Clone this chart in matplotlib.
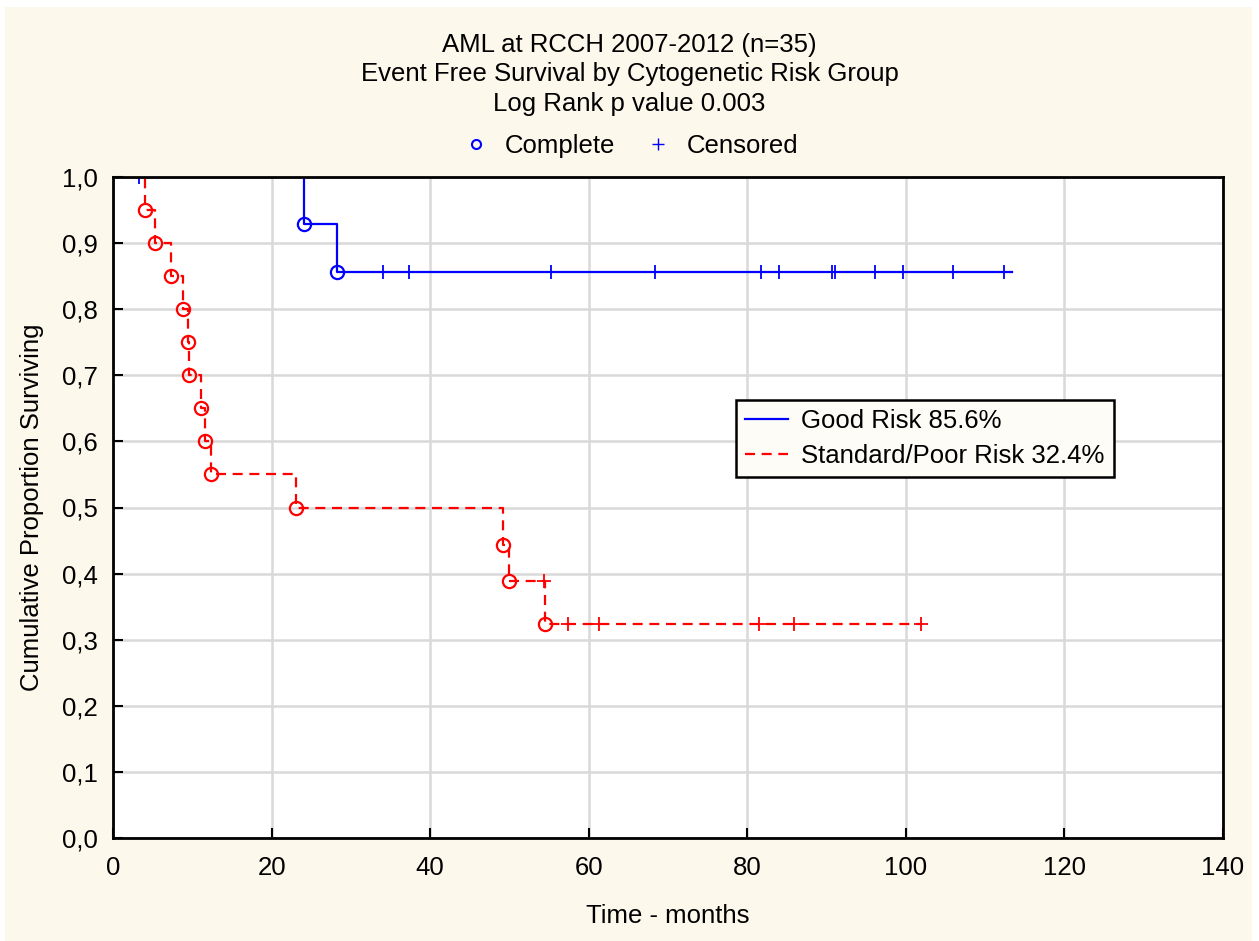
import numpy as np
import matplotlib
matplotlib.use('Agg')
from matplotlib import pyplot as plt
from matplotlib.lines import Line2D
from matplotlib.patches import Rectangle
from matplotlib.ticker import FuncFormatter

plt.rcParams['font.family'] = ['Liberation Sans', 'DejaVu Sans']

# Standard/Poor risk group (event times and survival after each step)
red_t = [0, 4.0, 5.3, 7.3, 8.8, 9.5, 9.6, 11.1, 11.6, 12.4, 23.1, 49.2, 50.0, 54.5]
red_s = [1.0, 0.95, 0.90, 0.85, 0.80, 0.75, 0.70, 0.65, 0.60, 0.55, 0.50, 0.444, 0.389, 0.324]
red_end = 101.9
red_cens_t = [54.3, 57.4, 61.3, 81.5, 85.9, 101.9]
red_cens_s = [0.389, 0.324, 0.324, 0.324, 0.324, 0.324]

# Good risk group
blue_t = [0, 24.1, 28.2]
blue_s = [1.0, 0.929, 0.856]
blue_end = 113.4
blue_cens_t = [3.3, 34.1, 37.3, 55.2, 68.3, 81.7, 84.0, 90.7, 91.1, 96.1, 99.7, 105.9, 112.4]
blue_cens_s = [1.0] + [0.856] * 12

cream = '#fdf8ec'
fs = 18.5

fig = plt.figure(figsize=(12.59, 9.41), dpi=100, facecolor='white')
fig.patches.append(Rectangle((5 / 1259, 0), 1247 / 1259, 934 / 941, transform=fig.transFigure,
                             facecolor=cream, edgecolor='none', zorder=-10))
ax = fig.add_axes([113 / 1259, 1 - 838 / 941, 1110 / 1259, 661 / 941])
ax.set_facecolor('white')

dash = (0, (4.5, 3))
# step curves
ax.step(red_t + [red_end], red_s + [red_s[-1]], where='post', color='red', lw=1.6,
        linestyle=dash, label='Standard/Poor Risk 32.4%', zorder=3)
ax.step(blue_t + [blue_end], blue_s + [blue_s[-1]], where='post', color='blue', lw=1.6,
        label='Good Risk 85.6%', zorder=3)

# complete (event) markers
ax.plot(red_t[1:], red_s[1:], 'o', mfc='none', mec='red', mew=1.6, ms=9.5, ls='none', zorder=4)
ax.plot(blue_t[1:], blue_s[1:], 'o', mfc='none', mec='blue', mew=1.6, ms=9.5, ls='none', zorder=4)
# censored markers
ax.plot(red_cens_t, red_cens_s, '+', color='red', mew=1.3, ms=10, ls='none', zorder=4)
ax.plot(blue_cens_t, blue_cens_s, '+', color='blue', mew=1.3, ms=10, ls='none', zorder=4)

ax.set_xlim(0, 140)
ax.set_ylim(0, 1.0)
ax.set_xticks(np.arange(0, 141, 20))
ax.set_yticks(np.arange(0, 1.01, 0.1))
ax.yaxis.set_major_formatter(FuncFormatter(lambda v, p: ('%.1f' % v).replace('.', ',')))
ax.grid(True, color='#d9d9d9', lw=1.8)
ax.set_axisbelow(True)
ax.tick_params(direction='in', length=7, width=1.5, labelsize=fs, color='black')
ax.tick_params(axis='y', pad=11)
ax.tick_params(axis='x', pad=13)
for s in ax.spines.values():
    s.set_linewidth(2)
    s.set_color('black')
    s.set_zorder(5)

ax.set_xlabel('Time - months', fontsize=fs, labelpad=17)
ax.set_ylabel('Cumulative Proportion Surviving', fontsize=fs, labelpad=13)

handles, labels = ax.get_legend_handles_labels()
leg = ax.legend(handles[::-1], labels[::-1], loc='upper left', bbox_to_anchor=(0.561, 0.662),
                borderaxespad=0, fontsize=fs, frameon=True, fancybox=False, edgecolor='black',
                facecolor='#fefcf6', framealpha=1, handlelength=1.7, handletextpad=0.5,
                borderpad=0.35, labelspacing=0.4)
leg.get_frame().set_linewidth(1.8)

# title lines
titles = ['AML at RCCH 2007-2012 (n=35)', 'Event Free Survival by Cytogenetic Risk Group',
          'Log Rank p value 0.003']
for i, t in enumerate(titles):
    fig.text(0.5, 1 - (45 + 29.5 * i) / 941, t, ha='center', va='center', fontsize=fs)

# marker-type legend at the top
top_handles = [Line2D([], [], marker='o', mfc='none', mec='blue', mew=1.5, ms=6.5, ls='none'),
               Line2D([], [], marker='+', color='blue', mew=1.0, ms=8, ls='none')]
fig.legend(top_handles, ['Complete', 'Censored'], loc='center', ncol=2,
           bbox_to_anchor=(0.5, 1 - 146 / 941), frameon=False, fontsize=fs,
           handlelength=1.2, handletextpad=0.5, columnspacing=1.07)

fig.savefig('out.png', dpi=100, facecolor=fig.get_facecolor())
